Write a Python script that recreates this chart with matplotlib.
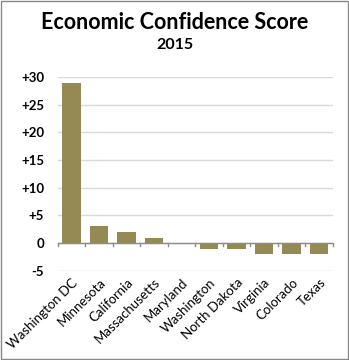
import matplotlib
matplotlib.use("Agg")
import matplotlib.pyplot as plt
from matplotlib.patches import Rectangle
import numpy as np

states = ["Washington DC", "Minnesota", "California", "Massachusetts", "Maryland",
          "Washington", "North Dakota", "Virginia", "Colorado", "Texas"]
scores = [29, 3, 2, 1, 0, -1, -1, -2, -2, -2]
y_ticks = [-5, 0, 5, 10, 15, 20, 25, 30]
y_labels = ["-5", "0", "+5", "+10", "+15", "+20", "+25", "+30"]

plt.rcParams['font.family'] = ['Lato', 'DejaVu Sans']

fig = plt.figure(figsize=(3.49, 3.60), dpi=100)
ax = fig.add_axes([0.166, 0.248, 0.788, 0.538])

x = np.arange(len(states))
ax.bar(x, scores, width=0.67, color='#958A54', zorder=3)

ax.set_xlim(-0.5, len(states) - 0.5)
ax.set_ylim(-5, 30)
ax.set_yticks(y_ticks)
ax.set_yticklabels(y_labels, fontsize=9.5, fontweight='bold')
ax.tick_params(axis='y', length=0, pad=10)
ax.grid(axis='y', color='#D9D9D9', linewidth=1, zorder=0)

for s in ['top', 'right', 'left', 'bottom']:
    ax.spines[s].set_visible(False)

# zero axis line with ticks between categories
ax.axhline(0, color='#8C8C8C', linewidth=1, zorder=4)
for b in np.arange(-0.5, len(states), 1.0):
    ax.plot([b, b], [0, -0.6], color='#8C8C8C', linewidth=1, zorder=4, clip_on=False)

ax.set_xticks(x)
ax.set_xticklabels(states, rotation=45, ha='right', rotation_mode='anchor', fontsize=9.5)
ax.tick_params(axis='x', length=0, pad=4)

fig.text(0.5, 0.938, "Economic Confidence Score", ha='center', va='center',
         fontsize=15.5, fontweight='bold')
fig.text(0.5, 0.875, "2015", ha='center', va='center', fontsize=11.5, fontweight='bold')

fig.patches.append(Rectangle((0.0015, 0.0015), 0.997, 0.997, transform=fig.transFigure,
                             fill=False, edgecolor='#888888', linewidth=1))

fig.savefig("out.png", dpi=100, facecolor='white')
